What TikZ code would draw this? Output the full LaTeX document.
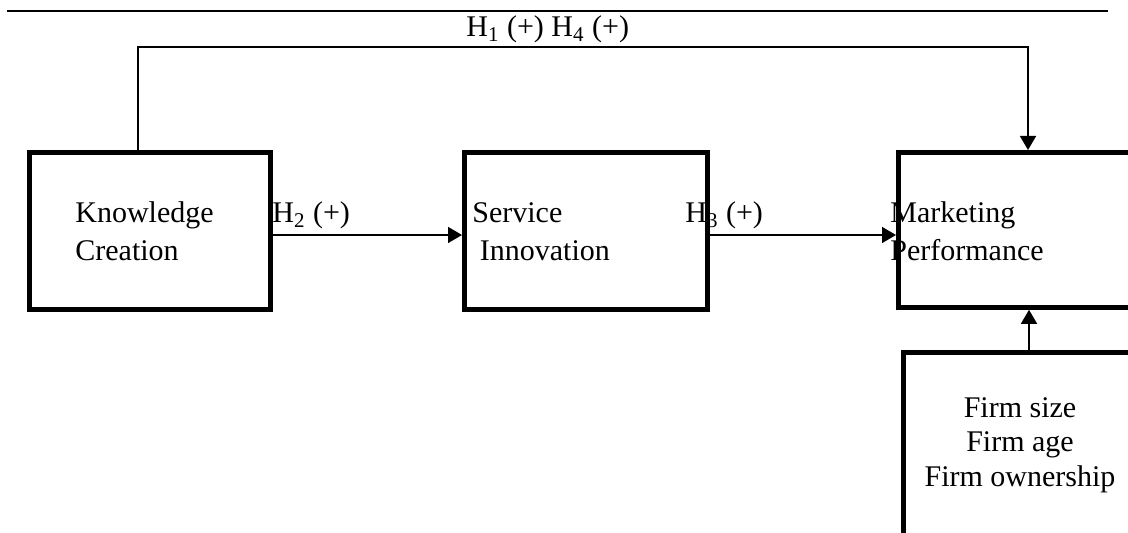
\documentclass[tikz,border=0pt]{standalone}
\usepackage{fontspec}
\setmainfont{Liberation Serif}
\usepackage{tikz}
\usetikzlibrary{arrows.meta}

\begin{document}
\begin{tikzpicture}[x=0.5pt,y=-0.5pt,>={Triangle[width=8pt,length=7pt]},
    every node/.style={font=\fontsize{15pt}{19pt}\selectfont},
    box/.style={draw,line width=2.4pt,anchor=north west,inner sep=0pt},
    txt/.style={anchor=base west,align=left,inner sep=0pt},
    hyp/.style={anchor=base west,inner sep=0pt}]
  \clip (0,0) rectangle (1128,533);
  \draw[line width=1.2pt] (7,11) -- (1108,11);
  % boxes
  \node[box,minimum width=120.5pt,minimum height=78.5pt] (KC) at (27,150) {};
  \node[box,minimum width=121.5pt,minimum height=78.5pt] (SI) at (462,150) {};
  \node[box,minimum width=121.5pt,minimum height=77.5pt] (MP) at (896,150) {};
  \node[box,minimum width=119pt,minimum height=95pt] (FC) at (901,350) {};
  \node[txt] (KCt) at (75,261) {Knowledge\\Creation};
  \node[txt] (SIt) at (472,261) {Service\\~Innovation};
  \node[txt] (MPt) at (890,261) {Marketing\\Performance};
  \node[anchor=base,align=center,inner sep=0pt,
    font=\fontsize{15pt}{17.5pt}\selectfont] (FCt) at (1020,487)
    {Firm size\\Firm age\\Firm ownership};
  % hypotheses
  \draw[->,line width=0.75pt] (KC.north -| 138,0) -- ++(0,-103) -| (MP.north -| 1028,0);
  \draw[->,line width=0.75pt] (KC.east |- 0,235) -- (SI.west |- 0,235);
  \draw[->,line width=0.75pt] (SI.east |- 0,235) -- (MP.west |- 0,235);
  \draw[->,line width=0.75pt] (FC.north -| 1029,0) -- (MP.south -| 1029,0);
  \node[hyp] (H14) at (466,37) {H\textsubscript{1} (+) H\textsubscript{4} (+)};
  \node[hyp] (H2) at (272,223) {H\textsubscript{2} (+)};
  \node[hyp] (H3) at (685,223) {H\textsubscript{3} (+)};
\end{tikzpicture}
\end{document}
